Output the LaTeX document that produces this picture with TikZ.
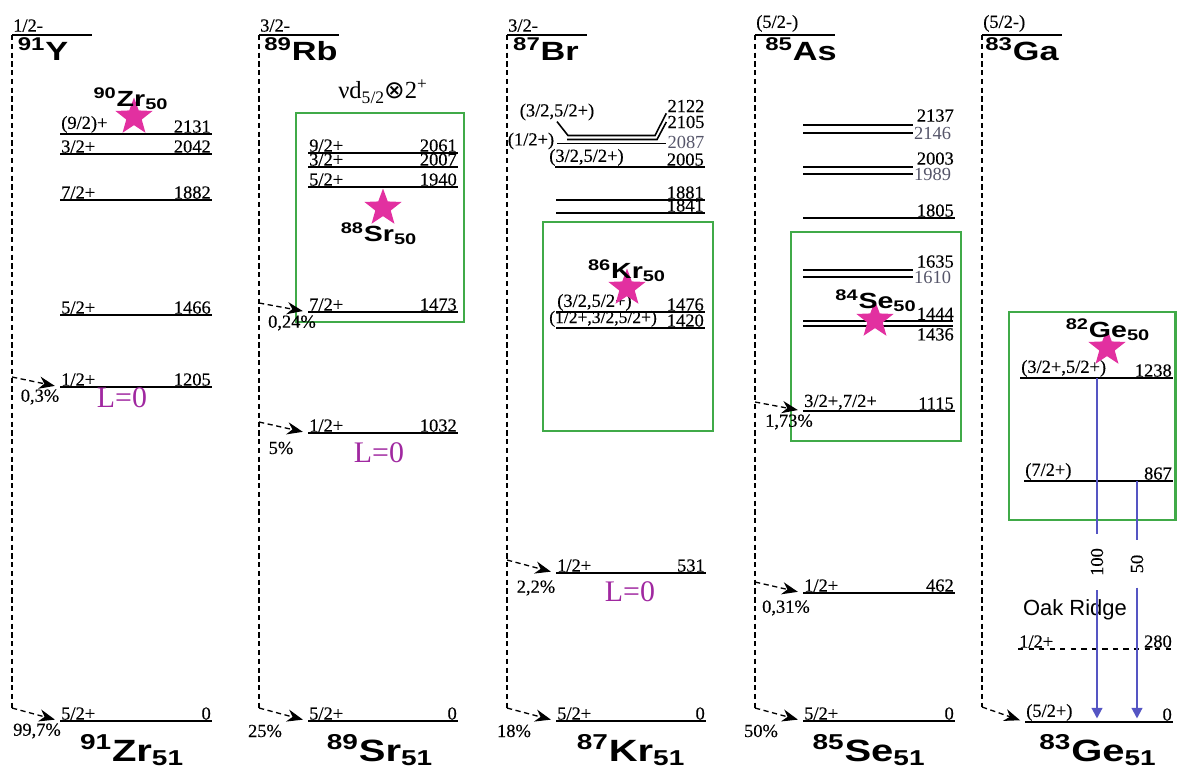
\documentclass[tikz,border=0pt]{standalone}
\usepackage{fontspec}
\setmainfont{Liberation Serif}
\setsansfont{Liberation Sans}
\newfontfamily\levfont[FakeBold=0.3]{Liberation Serif}
\newfontfamily\nucfont[FakeStretch=1.3]{Liberation Sans}
\newfontfamily\symbfont{DejaVu Sans}
\usepackage{xcolor}
\usetikzlibrary{arrows.meta,positioning,shapes.geometric}

\definecolor{boxgreen}{RGB}{64,170,72}
\definecolor{starpink}{RGB}{226,48,160}
\definecolor{lzero}{RGB}{160,40,160}
\definecolor{gamblue}{RGB}{85,85,195}
\definecolor{thgray}{RGB}{85,85,105}

\newcommand{\nucl}[3]{\textsuperscript{#1}#2\textsubscript{#3}}
\newcommand{\lvl}[6]{%
  \draw[level] (#2,#4) coordinate (#1) -- (#3,#4) coordinate (#1e);
  \node[spinlab] (#1s) at (#1) {#5};
  \node[enlab] (#1n) at (#1e) {#6};}

\tikzset{
  lab/.style={inner sep=0.5pt, font=\levfont\fontsize{10.5}{10.5}\selectfont},
  thlab/.style={inner sep=0.5pt, text=thgray, font=\fontsize{10.5}{10.5}\selectfont},
  level/.style={line width=0.9pt},
  spinlab/.style={lab, anchor=south west},
  enlab/.style={lab, anchor=south east},
  feed/.style={line width=0.75pt, dash pattern=on 3pt off 2pt},
  feedarr/.style={feed, shorten >=3pt, -{Stealth[length=9pt,width=7pt]}},
  pct/.style={lab},
  parent/.style={inner sep=0pt, font=\nucfont\bfseries\fontsize{15}{15}\selectfont, anchor=base},
  daughter/.style={inner sep=0pt, font=\nucfont\bfseries\fontsize{17.5}{17.5}\selectfont, anchor=base},
  core/.style={inner sep=0pt, font=\nucfont\bfseries\fontsize{12.5}{12.5}\selectfont, anchor=base},
  excstar/.style={star, star points=5, star point ratio=2.4, fill=starpink, draw=none,
    minimum size=0.78cm, inner sep=0pt},
  gbox/.style={draw=boxgreen, line width=1.4pt},
  lzlab/.style={inner sep=0pt, text=lzero, font=\fontsize{17}{17}\selectfont},
  gam/.style={draw=gamblue, line width=1.2pt},
  gamlab/.style={lab, rotate=90, inner xsep=8pt, inner ysep=1pt},
}

\begin{document}
\begin{tikzpicture}[>=Stealth, x=0.02cm, y=-0.02cm]
    \useasboundingbox (0,0) rectangle (1177,771);

    \draw[gbox] (296,113) rectangle (464,322);
    \draw[gbox] (543,222) rectangle (713,431);
    \draw[gbox] (791,232) rectangle (961,441);
    \draw[gbox] (1009,312) rectangle (1175.5,520);

    \coordinate (yTop) at (12,35);
    \draw[level] (yTop) -- ++(80,0);
    \node[spinlab] (ySpin) at (12,33) {1/2-};
    \node[parent] (yName) at (43,60) {\textsuperscript{91}Y};
    \lvl{zrA}{60}{212}{134}{(9/2)+}{2131}
    \lvl{zrB}{60}{212}{154}{3/2+}{2042}
    \lvl{zrC}{60}{212}{200}{7/2+}{1882}
    \lvl{zrD}{60}{212}{315}{5/2+}{1466}
    \lvl{zrE}{60}{212}{387}{1/2+}{1205}
    \lvl{zrG}{60}{212}{721}{5/2+}{0}
    \coordinate (yB1) at (12,377);
    \coordinate (yB2) at (12,708);
    \draw[feed] (yTop) -- (yB2);
    \draw[feedarr] (yB1) -- (zrE);
    \draw[feedarr] (yB2) -- (zrG);
    \node[pct] (yP1) at (40,397) {0,3\%};
    \node[pct] (yP2) at (37,731) {99,7\%};
    \node[excstar] (zrStar) at (134,117) {};
    \node[core] (zrCore) at (131,106) {\nucl{90}{Zr}{50}};
    \node[lzlab] (zrL) at (122,398) {L=0};
    \node[daughter] (zrName) at (132,761) {\nucl{91}{Zr}{51}};

    \coordinate (rbTop) at (259,35);
    \draw[level] (rbTop) -- ++(80,0);
    \node[spinlab] (rbSpin) at (259,33) {3/2-};
    \node[parent] (rbName) at (301,60) {\textsuperscript{89}Rb};
    \node[inner sep=0pt, font=\fontsize{14}{14}\selectfont] (srConf) at (383,92)
        {νd\raisebox{-0.45ex}{\fontsize{10}{10}\selectfont 5/2}{\symbfont ⊗}2\textsuperscript{+}};
    \lvl{srA}{308}{458}{153}{9/2+}{2061}
    \lvl{srB}{308}{458}{167}{3/2+}{2007}
    \lvl{srC}{308}{458}{187}{5/2+}{1940}
    \lvl{srD}{308}{458}{312}{7/2+}{1473}
    \lvl{srE}{308}{458}{433}{1/2+}{1032}
    \lvl{srG}{308}{458}{721}{5/2+}{0}
    \coordinate (rbB1) at (259,303);
    \coordinate (rbB2) at (259,422);
    \coordinate (rbB3) at (259,708);
    \draw[feed] (rbTop) -- (rbB3);
    \draw[feedarr] (rbB1) -- (srD);
    \draw[feedarr] (rbB2) -- (srE);
    \draw[feedarr] (rbB3) -- (srG);
    \node[pct] (rbP1) at (292,323) {0,24\%};
    \node[pct] (rbP2) at (281,448) {5\%};
    \node[pct] (rbP3) at (265,731) {25\%};
    \node[excstar] (srStar) at (383,208) {};
    \node[core] (srCore) at (379,241) {\nucl{88}{Sr}{50}};
    \node[lzlab] (srL) at (379,453) {L=0};
    \node[daughter] (srName) at (380,761) {\nucl{89}{Sr}{51}};

    \coordinate (brTop) at (507,35);
    \draw[level] (brTop) -- ++(80,0);
    \node[spinlab] (brSpin) at (507,33) {3/2-};
    \node[parent] (brName) at (546,60) {\textsuperscript{87}Br};
    \node[lab] (krS1) at (557,112) {(3/2,5/2+)};
    \node[lab] (krE1) at (686,106) {2122};
    \node[lab] (krE2) at (686,122) {2105};
    \node[thlab] (krE3) at (686,142) {2087};
    \node[lab] (krS3) at (531,141) {(1/2+)};
    \draw[level] (krS1.south) -- (568,135.5) -- (655,135.5) -- (krE1.south west);
    \draw[level] (567,139.5) -- (657,139.5) -- (krE2.west);
    \draw[level] (557,143.5) -- (666,143.5);
    \draw[level] (555,167) coordinate (krA) -- (705,167);
    \node[spinlab] (krAs) at (548,167) {(3/2,5/2+)};
    \node[enlab] (krAn) at (705,167) {2005};
    \lvl{krB}{556}{705}{200}{}{1881}
    \lvl{krC}{556}{705}{213}{}{1841}
    \lvl{krD}{556}{705}{312}{(3/2,5/2+)}{1476}
    \draw[level] (556,328) coordinate (krE) -- (705,328);
    \node[spinlab, font=\levfont\fontsize{10}{10}\selectfont] (krEs) at (548,328) {(1/2+,3/2,5/2+)};
    \node[enlab] (krEn) at (705,328) {1420};
    \lvl{krF}{556}{706}{573}{1/2+}{531}
    \lvl{krG}{556}{706}{721}{5/2+}{0}
    \coordinate (brB1) at (507,560);
    \coordinate (brB2) at (507,708);
    \draw[feed] (brTop) -- (brB2);
    \draw[feedarr] (brB1) -- (krF);
    \draw[feedarr] (brB2) -- (krG);
    \node[pct] (brP1) at (536,588) {2,2\%};
    \node[pct] (brP2) at (514,731) {18\%};
    \node[excstar] (krStar) at (627,288) {};
    \node[core] (krCore) at (627,278) {\nucl{86}{Kr}{50}};
    \node[lzlab] (krL) at (630,592) {L=0};
    \node[daughter] (krName) at (631,761) {\nucl{87}{Kr}{51}};

    \coordinate (asTop) at (755,35);
    \draw[level] (asTop) -- ++(80,0);
    \node[spinlab] (asSpin) at (755,33) {(5/2-)};
    \node[parent] (asName) at (801,60) {\textsuperscript{85}As};
    \node[enlab] (seE1) at (955,123) {2137};
    \node[thlab, anchor=west] (seE2) at (913,133) {2146};
    \draw[level] (803,125) -- (913,125);
    \draw[level] (803,133) -- (913,133);
    \node[enlab] (seE3) at (955,166) {2003};
    \node[thlab, anchor=west] (seE4) at (913,174) {1989};
    \draw[level] (803,167) -- (913,167);
    \draw[level] (803,174) -- (913,174);
    \lvl{seA}{803}{955}{218}{}{1805}
    \node[enlab] (seE5) at (955,269) {1635};
    \node[thlab, anchor=west] (seE6) at (913,277) {1610};
    \draw[level] (803,270) -- (913,270);
    \draw[level] (803,277) -- (913,277);
    \draw[level] (803,321) -- (953,321);
    \draw[level] (803,326) -- (953,326);
    \node[enlab] (seE7) at (955,321) {1444};
    \node[lab, anchor=north east] (seE8) at (955,327) {1436};
    \lvl{seB}{803}{955}{411}{3/2+,7/2+}{1115}
    \lvl{seC}{803}{955}{593}{1/2+}{462}
    \lvl{seG}{803}{955}{721}{5/2+}{0}
    \coordinate (asB1) at (755,402);
    \coordinate (asB2) at (755,582);
    \coordinate (asB3) at (755,708);
    \draw[feed] (asTop) -- (asB3);
    \draw[feedarr] (asB1) -- (seB);
    \draw[feedarr] (asB2) -- (seC);
    \draw[feedarr] (asB3) -- (seG);
    \node[pct] (asP1) at (789,422) {1,73\%};
    \node[pct] (asP2) at (786,608) {0,31\%};
    \node[pct] (asP3) at (761,731) {50\%};
    \node[excstar] (seStar) at (875,320) {};
    \node[core] (seCore) at (876,308) {\nucl{84}{Se}{50}};
    \node[daughter] (seName) at (869,761) {\nucl{85}{Se}{51}};

    \coordinate (gaTop) at (982,35);
    \draw[level] (gaTop) -- ++(80,0);
    \node[spinlab] (gaSpin) at (982,33) {(5/2-)};
    \node[parent] (gaName) at (1022,60) {\textsuperscript{83}Ga};
    \lvl{geA}{1020}{1173}{378}{(3/2+,5/2+)}{1238}
    \lvl{geB}{1024}{1173}{481}{(7/2+)}{867}
    \draw[level, dashed] (1018,649) coordinate (geC) -- (1173,649) coordinate (geCe);
    \node[spinlab] (geCs) at (geC) {1/2+};
    \node[enlab] (geCn) at (geCe) {280};
    \lvl{geG}{1025}{1173}{722}{(5/2+)}{0}
    \node[inner sep=0pt, font=\sffamily\fontsize{12.5}{12.5}\selectfont] (oak) at (1075,610) {Oak Ridge};
    \coordinate (gaB1) at (982,707);
    \draw[feed] (gaTop) -- (gaB1);
    \draw[feedarr] (gaB1) -- (geG);
    \coordinate (g1Top) at (1097,378);
    \coordinate (g1End) at (1097,722);
    \coordinate (g2Top) at (1137,481);
    \coordinate (g2End) at (1137,722);
    \node[gamlab] (g1Lab) at (1097,562) {100};
    \node[gamlab] (g2Lab) at (1137,564) {50};
    \draw[gam] (g1Top) -- (g1Lab);
    \draw[gam, shorten >=2pt, -{Triangle[length=6pt,width=6pt]}] (g1Lab) -- (g1End);
    \draw[gam] (g2Top) -- (g2Lab);
    \draw[gam, shorten >=2pt, -{Triangle[length=6pt,width=6pt]}] (g2Lab) -- (g2End);
    \node[excstar] (geStar) at (1107,348) {};
    \node[core] (geCore) at (1108,337) {\nucl{82}{Ge}{50}};
    \node[daughter] (geName) at (1098,761) {\nucl{83}{Ge}{51}};
\end{tikzpicture}
\end{document}
